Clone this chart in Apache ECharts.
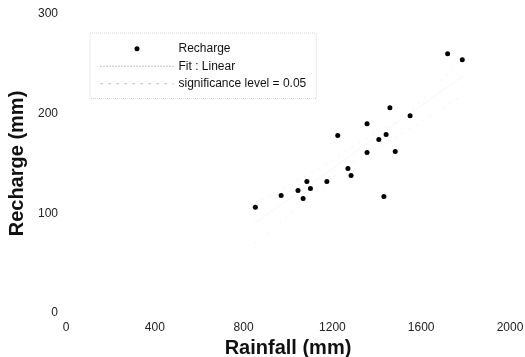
<!DOCTYPE html>
<html>
<head>
<meta charset="utf-8">
<script src="https://cdn.jsdelivr.net/npm/echarts@6/dist/echarts.min.js"></script>
<style>html,body{margin:0;padding:0;background:#fff}#c{width:525px;height:357px}</style>
</head>
<body>
<div id="c"></div>
<script>
// Data
var rainfall = [853, 969, 1045, 1068, 1085, 1101, 1175, 1224, 1270, 1284, 1356, 1356, 1409, 1442, 1459, 1432, 1483, 1550, 1719, 1785];
var recharge = [106, 118, 123, 115, 132, 125, 132, 178, 145, 138, 190, 161, 174, 179, 206, 117, 162, 198, 260, 254];
var fitX = [850, 1790];
var fitY = [90, 238];
var bandX = [850, 1100, 1300, 1550, 1790];
var bandUpper = [110, 140, 168, 203, 258];
var bandLower = [70, 116, 152, 185, 219];
var xTicks = [0, 400, 800, 1200, 1600, 2000];
var yTicks = [0, 100, 200, 300];

function zip(a, b) { return a.map(function (v, i) { return [v, b[i]]; }); }

var chart = echarts.init(document.getElementById('c'));
var font = 'Liberation Sans, Arial, sans-serif';
chart.setOption({
  animation: false,
  backgroundColor: '#fff',
  textStyle: { fontFamily: font },
  grid: { left: 66, right: 15, top: 14, bottom: 44, containLabel: false, outerBoundsMode: 'none' },
  legend: {
    orient: 'vertical',
    left: 90, top: 33,
    padding: [7, 10, 6, 10],
    itemWidth: 73, itemHeight: 5, itemGap: 0,
    borderColor: '#d4d4d4', borderWidth: 1, borderType: 'dotted',
    textStyle: { fontSize: 12, color: '#111', fontFamily: font, lineHeight: 17.5 },
    data: [
      { name: 'Recharge', itemStyle: { color: '#000', opacity: 1 } },
      { name: 'Fit : Linear', itemStyle: { opacity: 0 }, lineStyle: { color: '#888', width: 1, type: [1, 2], opacity: 1 } },
      { name: 'significance level = 0.05', itemStyle: { opacity: 0 }, lineStyle: { color: '#aaa', width: 1, type: [2, 6], opacity: 1 } }
    ]
  },
  xAxis: {
    type: 'value', min: 0, max: 2000, interval: 400,
    name: 'Rainfall (mm)', nameLocation: 'middle', nameGap: 24,
    nameTextStyle: { fontSize: 20, fontWeight: 'bold', color: '#111', fontFamily: font },
    axisLine: { show: false }, axisTick: { show: false }, splitLine: { show: false },
    axisLabel: { margin: 9, fontSize: 12, color: '#222', fontFamily: font,
      customValues: xTicks, formatter: function (v) { return String(v); } }
  },
  yAxis: {
    type: 'value', min: 0, max: 300, interval: 100,
    name: 'Recharge (mm)', nameLocation: 'middle', nameGap: 38,
    nameTextStyle: { fontSize: 20, fontWeight: 'bold', color: '#111', fontFamily: font },
    axisLine: { show: false }, axisTick: { show: false }, splitLine: { show: false },
    axisLabel: { margin: 8, fontSize: 12, color: '#222', fontFamily: font,
      customValues: yTicks, formatter: function (v) { return String(v); } }
  },
  series: [
    {
      name: 'Recharge', type: 'scatter', symbol: 'circle', symbolSize: 5,
      itemStyle: { color: '#000', opacity: 1 },
      data: zip(rainfall, recharge), z: 5
    },
    {
      name: 'Fit : Linear', type: 'line', symbol: 'none',
      lineStyle: { color: '#f0f0f0', width: 1, type: 'dotted' },
      itemStyle: { color: '#999' },
      data: zip(fitX, fitY)
    },
    {
      name: 'significance level = 0.05', type: 'line', symbol: 'none', smooth: true,
      lineStyle: { color: '#f3f3f3', width: 1, type: [2, 6] },
      itemStyle: { color: '#aaa' },
      data: zip(bandX, bandUpper)
    },
    {
      name: 'significance level = 0.05', type: 'line', symbol: 'none', smooth: true,
      lineStyle: { color: '#f3f3f3', width: 1, type: [2, 6] },
      itemStyle: { color: '#aaa' },
      data: zip(bandX, bandLower)
    }
  ]
});
</script>
</body>
</html>
